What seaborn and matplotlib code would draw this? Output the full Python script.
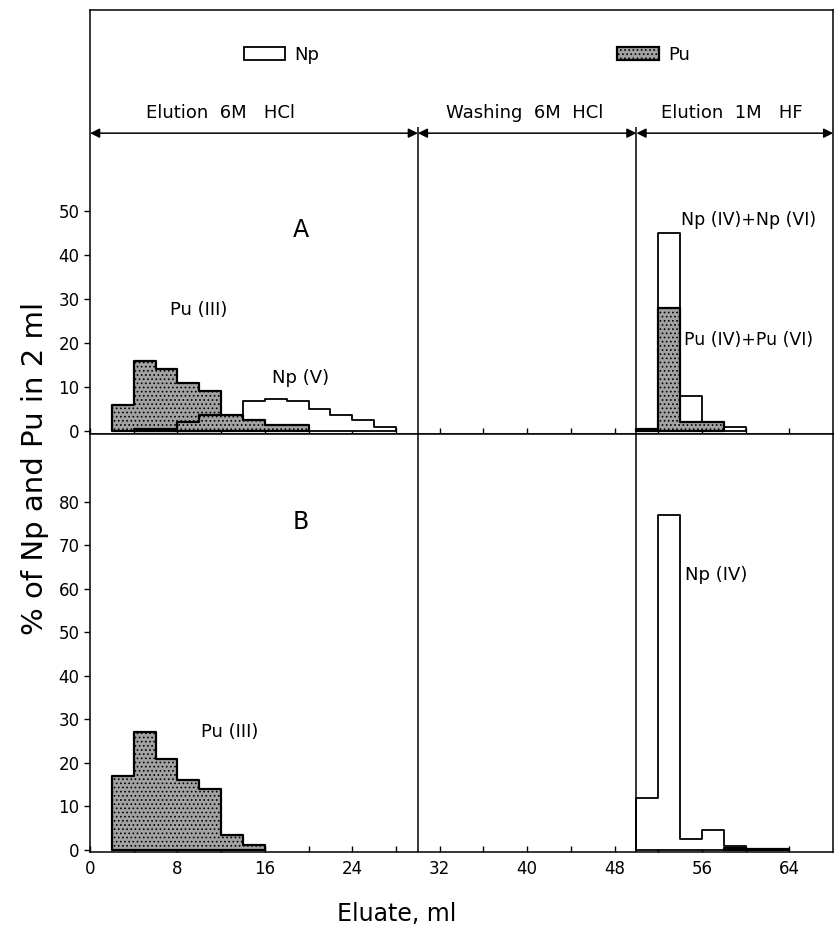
import numpy as np
import pandas as pd
import matplotlib
matplotlib.use("Agg")
import matplotlib.pyplot as plt
from matplotlib.patches import Patch
import seaborn as sns

# values, % per 2 ml fraction
bin_w = 2

# panel A
a_pu3_start = 2
a_pu3 = [6, 16, 14, 11, 9]
a_pu_tail_start = 4
a_pu_tail = [0.4, 0.4, 2, 3.7, 3.7, 2.5, 1.4, 1.4]
a_np5_start = 14
a_np5 = [6.7, 7.3, 6.7, 5, 3.6, 2.5, 1]
a_np_hf_start = 50
a_np_hf = [0.5, 45, 8, 2, 0.8]
a_pu_hf_start = 50
a_pu_hf = [0.5, 28, 2, 2]

# panel B
b_pu3_start = 2
b_pu3 = [17, 27, 21, 16, 14, 3.5, 1.2]
b_np_hf_start = 50
b_np_hf = [12, 77, 2.5, 4.5, 0.8, 0.3, 0.3]
b_pu_hf_start = 58
b_pu_hf = [0.5, 0.3, 0.3]

x_ticks = [0, 8, 16, 24, 32, 40, 48, 56, 64]
a_yticks = [0, 10, 20, 30, 40, 50]
b_yticks = [0, 10, 20, 30, 40, 50, 60, 70, 80]
sections = ["Elution  6M   HCl", "Washing  6M  HCl", "Elution  1M   HF"]
section_edges = [0, 30, 50, 68]

sns.set_style("ticks")
plt.rcParams["font.family"] = ["DejaVu Sans"]
plt.rcParams["hatch.linewidth"] = 0.7
plt.rcParams["text.color"] = "black"
plt.rcParams["xtick.color"] = "black"
plt.rcParams["ytick.color"] = "black"
plt.rcParams["axes.labelcolor"] = "black"

np_style = dict(facecolor="white", edgecolor="black", linewidth=1.3)
pu_style = dict(facecolor="#a2a2a2", edgecolor="black", linewidth=1.6, hatch="....")


def step_hist(ax, start, vals, style):
    n = len(vals)
    centers = start + bin_w * np.arange(n) + bin_w / 2
    d = pd.DataFrame({"ml": centers, "pct": vals})
    sns.histplot(data=d, x="ml", weights="pct", binwidth=bin_w,
                 binrange=(start, start + bin_w * n), element="step",
                 fill=True, ax=ax, **style)


fig = plt.figure(figsize=(8.34, 9.36), dpi=100)
ax_a = fig.add_axes([0.108, 0.5363, 0.891, 0.453])
ax_b = fig.add_axes([0.108, 0.0897, 0.891, 0.4466])

# panel A
step_hist(ax_a, a_np5_start, a_np5, np_style)
step_hist(ax_a, a_pu3_start, a_pu3, pu_style)
step_hist(ax_a, a_pu_tail_start, a_pu_tail, pu_style)
step_hist(ax_a, a_np_hf_start, a_np_hf, np_style)
step_hist(ax_a, a_pu_hf_start, a_pu_hf, pu_style)

# panel B
step_hist(ax_b, b_pu3_start, b_pu3, pu_style)
step_hist(ax_b, b_np_hf_start, b_np_hf, np_style)
step_hist(ax_b, b_pu_hf_start, b_pu_hf, dict(pu_style, facecolor="#333333"))

for ax in (ax_a, ax_b):
    ax.set_xlim(0, 68)
    ax.set_xticks(x_ticks)
    ax.set_xticks([4, 12, 20, 28, 36, 44, 52, 60], minor=True)
    ax.tick_params(axis="x", which="both", direction="in", length=4, width=1)
    ax.tick_params(axis="y", direction="out", length=4, width=1, labelsize=12)
    ax.set_xlabel("")
    ax.set_ylabel("")
    for s in ax.spines.values():
        s.set_visible(True)
        s.set_linewidth(1.1)
        s.set_color("black")

ax_a.set_ylim(-0.7, 95.7)
ax_a.set_yticks(a_yticks)
ax_a.set_xticklabels([])
ax_a.vlines([30, 50], -0.7, 69, color="black", lw=1.1)

ax_b.set_ylim(-0.5, 95.6)
ax_b.set_yticks(b_yticks)
ax_b.tick_params(axis="x", labelsize=12, pad=6)
ax_b.axvline(30, color="black", lw=1.1)
ax_b.axvline(50, color="black", lw=1.1)

# header with section arrows
arrow_y = 67.7
for i, name in enumerate(sections):
    x0, x1 = section_edges[i], section_edges[i + 1]
    ax_a.annotate("", xy=(x0, arrow_y), xytext=(x1, arrow_y),
                  arrowprops=dict(arrowstyle="<|-|>", color="black", lw=1.1,
                                  shrinkA=0, shrinkB=0, mutation_scale=14))
ax_a.text(11.9, 72.3, sections[0], ha="center", va="center", fontsize=13)
ax_a.text(39.8, 72.3, sections[1], ha="center", va="center", fontsize=13)
ax_a.text(58.7, 72.3, sections[2], ha="center", va="center", fontsize=13)

ax_a.legend(handles=[Patch(**np_style, label="Np"), Patch(**pu_style, label="Pu")],
            ncol=2, loc="center", bbox_to_anchor=(0.507, 0.894), frameon=False,
            fontsize=13, handlelength=2.3, handleheight=0.7, handletextpad=0.5,
            columnspacing=16.5)

# annotations
ax_a.text(19.3, 45.7, "A", ha="center", va="center", fontsize=17)
ax_a.text(9.9, 27.5, "Pu (III)", ha="center", va="center", fontsize=13)
ax_a.text(19.3, 12, "Np (V)", ha="center", va="center", fontsize=13)
ax_a.text(60.3, 48, "Np (IV)+Np (VI)", ha="center", va="center", fontsize=12.5)
ax_a.text(60.3, 20.7, "Pu (IV)+Pu (VI)", ha="center", va="center", fontsize=12.5)

ax_b.text(19.3, 75.4, "B", ha="center", va="center", fontsize=17)
ax_b.text(12.8, 27, "Pu (III)", ha="center", va="center", fontsize=13)
ax_b.text(57.3, 63.2, "Np (IV)", ha="center", va="center", fontsize=13)

fig.text(0.042, 0.5, "% of Np and Pu in 2 ml", rotation=90, ha="center",
         va="center", fontsize=21)
ax_b.set_xlabel("Eluate, ml", fontsize=17)
ax_b.xaxis.set_label_coords(0.412, -0.12)

fig.savefig("out.png", dpi=100)
